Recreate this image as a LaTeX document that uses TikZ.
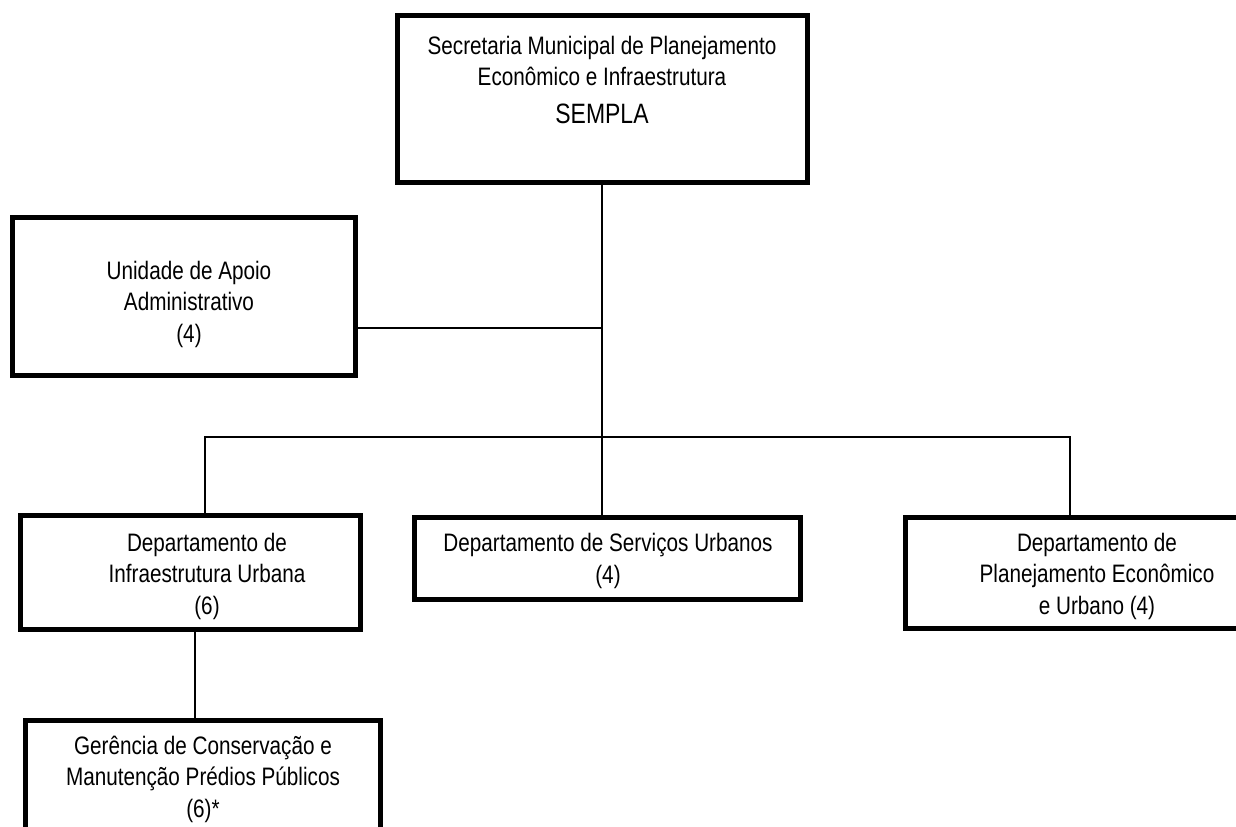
\documentclass[tikz,border=0pt]{standalone}
\usepackage{fontspec}
\setmainfont{Liberation Sans}[FakeStretch=0.82]
\usepackage{tikz}
\usetikzlibrary{positioning,calc}
\tikzset{every node/.append style={align=center}}
\tikzset{
  orgbox/.style={draw, line width=2pt, outer sep=0pt, inner sep=0pt},
  orgtext/.style={font=\fontsize{10.1}{12.6}\selectfont},
  link/.style={line width=0.8pt}
}

\begin{document}
\begin{tikzpicture}[x=0.4pt,y=-0.4pt]
    \useasboundingbox (0,0) rectangle (1236,827);
    \clip (0,0) rectangle (1236,827);

    % Secretaria
    \node[orgbox, minimum width=164pt, minimum height=66.8pt] (sempla) at (602.5,99) {};
    \node[orgtext] (semplatxt) at (602,80) {Secretaria Municipal de Planejamento\\Econômico e Infraestrutura\\[2.5pt]{\fontsize{11.2}{13}\selectfont SEMPLA}};

    % Unidade de Apoio
    \node[orgbox, minimum width=137.2pt, minimum height=63.2pt] (unidade) at (184,296.5) {};
    \node[orgtext] (unidadetxt) at (189,304) {Unidade de Apoio\\Administrativo\\(4)};

    % Departamentos
    \node[orgbox, minimum width=136pt, minimum height=45.6pt] (infra) at (190.5,572.5) {};
    \node[orgtext] (infratxt) at (207,576) {Departamento de\\Infraestrutura Urbana\\(6)};

    \node[orgbox, minimum width=154.4pt, minimum height=32.8pt] (servicos) at (607.5,558.5) {};
    \node[orgtext] (servicostxt) at (608,561) {Departamento de Serviços Urbanos\\(4)};

    \node[orgbox, minimum width=153.2pt, minimum height=44.4pt] (plan) at (1097,573) {};
    \node[orgtext] (plantxt) at (1097,576) {Departamento de\\Planejamento Econômico\\e Urbano (4)};

    % Gerencia
    \node[orgbox, minimum width=142pt, minimum height=80pt] (gerencia) at (203,820.5) {};
    \node[orgtext] (gerenciatxt) at (203,779) {Gerência de Conservação e\\Manutenção Prédios Públicos\\(6)*};

    % Ligacoes
    \coordinate (apoio) at (602,328);
    \coordinate (bus) at (602,437);
    \coordinate (busL) at (205,437);
    \coordinate (busR) at (1070,437);
    \coordinate (drop) at (195,675);

    \draw[link] (sempla.south -| bus) -- (bus);
    \draw[link] (unidade.east |- apoio) -- (apoio);
    \draw[link] (busL |- infra.north) -- (busL) -- (busR) -- (busR |- plan.north);
    \draw[link] (bus) -- (bus |- servicos.north);
    \draw[link] (drop |- infra.south) -- (drop |- gerencia.north);
\end{tikzpicture}
\end{document}
